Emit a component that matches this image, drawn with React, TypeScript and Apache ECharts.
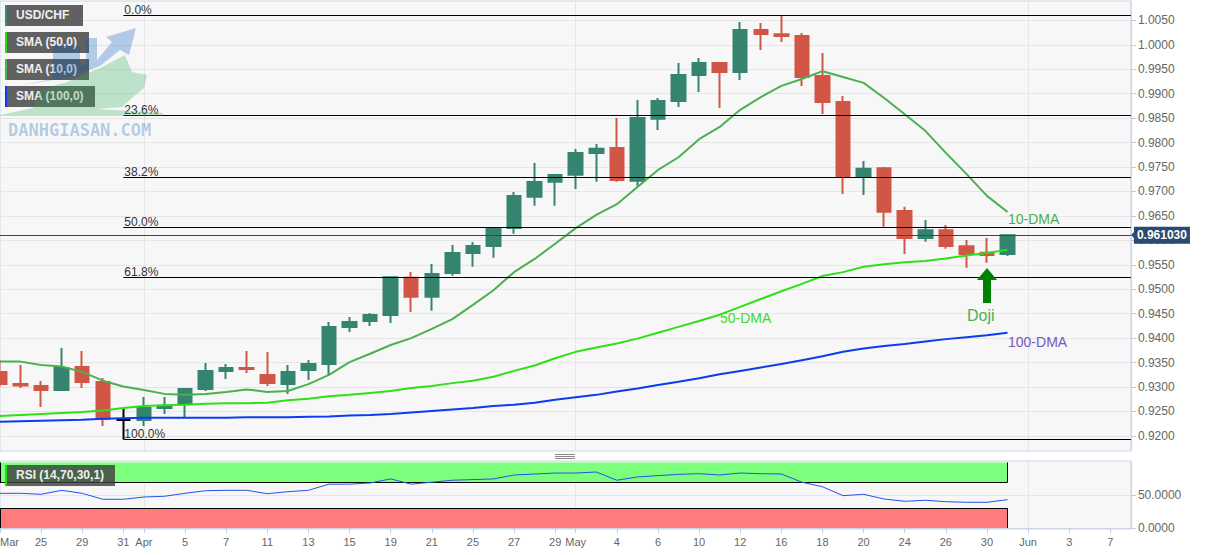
import React, { useEffect, useRef } from "react";
import * as echarts from "echarts";

const categories = ["Mar 23","Mar 24","Mar 25","Mar 28","Mar 29","Mar 30","Mar 31","Apr 1","Apr 4","Apr 5","Apr 6","Apr 7","Apr 8","Apr 11","Apr 12","Apr 13","Apr 14","Apr 15","Apr 18","Apr 19","Apr 20","Apr 21","Apr 22","Apr 25","Apr 26","Apr 27","Apr 28","Apr 29","May 2","May 3","May 4","May 5","May 6","May 9","May 10","May 11","May 12","May 13","May 16","May 17","May 18","May 19","May 20","May 23","May 24","May 25","May 26","May 27","May 30","May 31","Jun 1","Jun 2","Jun 3","Jun 6","Jun 7","Jun 8"];
const tickDates = ["Mar 23","Mar 25","Mar 29","Mar 31","Apr 1","Apr 5","Apr 7","Apr 11","Apr 13","Apr 15","Apr 19","Apr 21","Apr 25","Apr 27","Apr 29","May 2","May 4","May 6","May 10","May 12","May 16","May 18","May 20","May 24","May 26","May 30","Jun 1","Jun 3","Jun 7"];
const tickLabels = ["Mar","25","29","31","Apr","5","7","11","13","15","19","21","25","27","29","May","4","6","10","12","16","18","20","24","26","30","Jun","3","7"];
const monthStarts = ["Apr 1", "May 2", "Jun 1"];

// open, close, low, high
const candles = [
  [0.93308,0.93062,0.93001,0.93553],[0.93062,0.93031,0.9298,0.93451],[0.93021,0.92939,0.92592,0.93124],[0.92939,0.93389,0.92939,0.93798],
  [0.9341,0.93103,0.9298,0.93737],[0.93103,0.92346,0.92203,0.93185],[0.92326,0.92326,0.91932,0.92571],[0.92326,0.92571,0.92203,0.92796],
  [0.92571,0.92618,0.92449,0.92796],[0.92674,0.9296,0.92387,0.9298],[0.9296,0.93328,0.92919,0.93492],[0.93328,0.93389,0.93164,0.93471],
  [0.93389,0.93369,0.93287,0.93737],[0.93246,0.93083,0.93021,0.93717],[0.93062,0.93308,0.92858,0.93451],[0.93348,0.93471,0.93144,0.93553],
  [0.93471,0.94228,0.93246,0.9433],[0.94228,0.9433,0.94126,0.94432],[0.94351,0.94473,0.94248,0.94514],[0.94473,0.95244,0.9431,0.9525],
  [0.95236,0.94847,0.94535,0.95353],[0.94847,0.95312,0.94561,0.95516],[0.95332,0.95741,0.95277,0.95905],[0.95741,0.95884,0.95461,0.95966],
  [0.95884,0.96252,0.95645,0.96273],[0.96252,0.96907,0.96136,0.96989],[0.96893,0.97193,0.96708,0.97582],[0.97199,0.97336,0.96708,0.97357],
  [0.97342,0.97786,0.9705,0.97868],[0.97786,0.97874,0.97199,0.9797],[0.97888,0.97234,0.97199,0.98502],[0.9722,0.98502,0.97097,0.9887],
  [0.98488,0.9885,0.98256,0.98911],[0.9885,0.99381,0.98727,0.99627],[0.99381,0.99627,0.99034,0.99729],[0.99627,0.99443,0.98706,0.99627],
  [0.99443,1.00301,0.99279,1.00465],[1.00301,1.0022,0.99892,1.00445],[1.00214,1.00179,1.00056,1.00602],[1.00179,0.9934,0.99156,1.0024],
  [0.99361,0.98829,0.98584,0.99831],[0.98829,0.9731,0.96948,0.98952],[0.9731,0.97465,0.96927,0.97623],[0.97473,0.96586,0.96279,0.975],
  [0.966,0.96048,0.95721,0.96688],[0.96048,0.96205,0.95972,0.96416],[0.96205,0.95884,0.95829,0.96314],[0.95878,0.95721,0.9544,0.96007],
  [0.95747,0.957,0.95543,0.96048],[0.95721,0.96103,0.9568,0.96103],
];
const sma10 = [0.9352,0.9352,0.9345,0.9342,0.9331,0.9313,0.9301,0.9294,0.9286,0.9284,0.9286,0.929,0.9295,0.929,0.9292,0.9306,0.9325,0.9351,0.9368,0.9386,0.94,0.9419,0.9439,0.9468,0.9498,0.9535,0.9562,0.9593,0.9625,0.9652,0.9674,0.9709,0.9744,0.977,0.9807,0.9832,0.9867,0.9893,0.9916,0.993,0.9946,0.9934,0.9922,0.9891,0.9858,0.9824,0.9779,0.9736,0.9691,0.9658];
const sma50 = [0.9241,0.9243,0.9245,0.9247,0.9249,0.9252,0.9257,0.9261,0.9263,0.9264,0.9266,0.9267,0.9267,0.9268,0.9273,0.9276,0.9281,0.9284,0.9288,0.9292,0.9298,0.9302,0.9308,0.9313,0.9321,0.9333,0.9344,0.9359,0.9372,0.9381,0.9389,0.9399,0.9411,0.9423,0.9435,0.9448,0.9464,0.948,0.9496,0.9511,0.9527,0.9535,0.9546,0.9551,0.9555,0.9558,0.9563,0.9569,0.9574,0.9581];
const sma100 = [0.9229,0.923,0.9231,0.9232,0.9233,0.9235,0.9236,0.9237,0.9237,0.9237,0.9237,0.9237,0.9238,0.9238,0.9238,0.9239,0.924,0.9242,0.9243,0.9245,0.9248,0.9251,0.9254,0.9257,0.9261,0.9264,0.9268,0.9274,0.9279,0.9284,0.9291,0.9297,0.9304,0.9311,0.9318,0.9326,0.9333,0.934,0.9347,0.9355,0.9363,0.9372,0.9379,0.9384,0.9388,0.9393,0.9398,0.9402,0.9406,0.9411];
const rsi = [53,53,51.5,57.6,53,43.9,43.9,47.4,48.5,53,57,57.6,57.6,52.4,55.5,57.6,67,67,68.8,75,67,70,73,74,75,81,82.5,84,84,85.6,73,78,80,82,83,81,84,83,82.5,70,63,49.4,51.5,44.3,40.8,42.4,40.2,39.3,39.3,43.3];
const priceTicks = [1.005,1,0.995,0.99,0.985,0.98,0.975,0.97,0.965,0.96,0.955,0.95,0.945,0.94,0.935,0.93,0.925,0.92];
const rsiTicks = [0, 50];
const fibLevels = [["0.0%",1.00602],["23.6%",0.98556],["38.2%",0.9729],["50.0%",0.96267],["61.8%",0.95244],["100.0%",0.91932]] as [string, number][];
const lastPrice = 0.96103;
const lastPriceLabel = "0.961030";
const legendItems = [
  ["USD/CHF", "#2f8d7a", 5, 78],
  ["SMA (50,0)", "#22e000", 32, 84],
  ["SMA (10,0)", "#4caf50", 59, 84],
  ["SMA (100,0)", "#0a3cf0", 86, 90],
] as [string, string, number, number][];

const UP = "#34846f";
const DOWN = "#d25645";
const GRIDLINE = "#e6e6e6";
const BORDER = "#ced5e8";
const FONT = "'Liberation Sans', Arial, sans-serif";
const MARK_BLUE = "rgba(0,87,185,0.28)";
const MARK_GREEN = "rgba(44,174,84,0.28)";

const showTick = (_: number, v: string) => tickDates.includes(v);
const showMonth = (_: number, v: string) => monthStarts.includes(v);

function box(label: string, color: string, y: number, w: number, z = 20) {
  return [
    { type: "rect", z, shape: { x: 5, y, width: w, height: 21 }, style: { fill: "rgba(64,64,64,0.82)" } },
    { type: "rect", z, shape: { x: 5, y, width: 2, height: 21 }, style: { fill: color } },
    { type: "text", z: z + 1, x: 16, y: y + 4, style: { text: label, fill: "#f0f0f0", font: `bold 12px ${FONT}` } },
  ];
}

function annotation(text: string, x: number, y: number, fill: string, size = 14) {
  return { type: "text", z: 15, x, y, style: { text, fill, font: `${size}px ${FONT}` } };
}

export default function App() {
  const ref = useRef<HTMLDivElement>(null);
  useEffect(() => {
    const chart = echarts.init(ref.current!, undefined, { renderer: "svg" });
    const option: any = {
      animation: false,
      backgroundColor: "#ffffff",
      grid: [
        { left: 0, top: 1, width: 1130.9, height: 450, outerBoundsMode: "none", show: true, backgroundColor: "#f7f7f7", borderColor: BORDER, borderWidth: 1 },
        { left: 0, top: 461, width: 1130.9, height: 68, outerBoundsMode: "none", show: true, backgroundColor: "#f7f7f7", borderColor: BORDER, borderWidth: 1 },
      ],
      xAxis: [
        {
          type: "category", gridIndex: 0, data: categories, boundaryGap: false,
          axisLine: { show: false }, axisTick: { show: false }, axisLabel: { show: false },
          splitLine: { show: true, interval: showMonth, lineStyle: { color: GRIDLINE, width: 1 } },
        },
        {
          type: "category", gridIndex: 1, data: categories, boundaryGap: false,
          axisLine: { show: true, lineStyle: { color: BORDER } },
          axisTick: { show: true, interval: showTick, length: 5, lineStyle: { color: "#c4cbdc" } },
          axisLabel: {
            show: true, interval: showTick, color: "#666", fontFamily: FONT, fontSize: 11, margin: 7, alignMinLabel: "left",
            formatter: (v: string) => tickLabels[tickDates.indexOf(v)] ?? "",
          },
          splitLine: { show: true, interval: showMonth, lineStyle: { color: GRIDLINE, width: 1 } },
        },
      ],
      yAxis: [
        {
          type: "value", gridIndex: 0, position: "right", scale: true, min: 0.91692, max: 1.00895,
          axisLine: { show: true, lineStyle: { color: BORDER } },
          axisTick: { show: true, length: 5, customValues: priceTicks, lineStyle: { color: "#c4cbdc" } },
          axisLabel: { show: true, customValues: priceTicks, color: "#666", fontFamily: FONT, fontSize: 12, margin: 7, formatter: (v: number) => v.toFixed(4) },
          splitLine: { show: true, customValues: priceTicks, lineStyle: { color: GRIDLINE, width: 1 } },
        },
        {
          type: "value", gridIndex: 1, position: "right", min: -1.53, max: 102.4,
          axisLine: { show: true, lineStyle: { color: BORDER } },
          axisTick: { show: true, length: 5, customValues: rsiTicks, lineStyle: { color: "#c4cbdc" } },
          axisLabel: { show: true, customValues: rsiTicks, color: "#666", fontFamily: FONT, fontSize: 12, margin: 7, formatter: (v: number) => v.toFixed(4) },
          splitLine: { show: true, customValues: rsiTicks, lineStyle: { color: GRIDLINE, width: 1 } },
        },
      ],
      series: [
        {
          type: "candlestick", xAxisIndex: 0, yAxisIndex: 0, barWidth: 14, data: candles, z: 3,
          itemStyle: { color: UP, color0: DOWN, borderColor: UP, borderColor0: DOWN, borderColorDoji: "#000", borderWidth: 2 },
          markLine: {
            silent: true, symbol: "none", animation: false, z: 6,
            data: [
              ...fibLevels.map(([name, v]) => [
                {
                  coord: [6, v], lineStyle: { color: "#000", width: 1, type: "solid" },
                  label: { show: true, formatter: name, position: "insideStartTop", color: "#333", fontFamily: FONT, fontSize: 12, distance: [1, -0.5] },
                },
                { coord: [55, v] },
              ]),
              [
                {
                  coord: [0, lastPrice], lineStyle: { color: "#2b4a6f", width: 1, type: "solid" },
                  label: {
                    show: true, formatter: lastPriceLabel, position: "end", color: "#fff", fontFamily: FONT, fontSize: 12, fontWeight: "bold",
                    backgroundColor: "#2b4a6f", padding: [3, 3, 2, 3], distance: 3,
                  },
                },
                { coord: [55, lastPrice] },
              ],
            ],
          },
        },
        { type: "line", name: "SMA (10,0)", xAxisIndex: 0, yAxisIndex: 0, data: sma10, showSymbol: false, z: 5, lineStyle: { color: "#4caf50", width: 2 } },
        { type: "line", name: "SMA (50,0)", xAxisIndex: 0, yAxisIndex: 0, data: sma50, showSymbol: false, z: 5, lineStyle: { color: "#2ee016", width: 2 } },
        { type: "line", name: "SMA (100,0)", xAxisIndex: 0, yAxisIndex: 0, data: sma100, showSymbol: false, z: 5, lineStyle: { color: "#0a3cf0", width: 2 } },
        {
          type: "line", name: "RSI", xAxisIndex: 1, yAxisIndex: 1, data: rsi, showSymbol: false, z: 5, lineStyle: { color: "#2a50e8", width: 1 },
          markArea: {
            silent: true,
            data: [
              [{ coord: [0, 70], itemStyle: { color: "#7cff7c" } }, { coord: [49, 100] }],
              [{ coord: [0, 0], itemStyle: { color: "#ff7c7c" } }, { coord: [49, 30] }],
            ],
          },
          markLine: {
            silent: true, symbol: "none", label: { show: false }, lineStyle: { color: "#000", width: 1, type: "solid" },
            data: [
              [{ coord: [0, 70] }, { coord: [49, 70] }],
              [{ coord: [49, 70] }, { coord: [49, 100] }],
              [{ coord: [0, 70] }, { coord: [0, 100] }],
              [{ coord: [0, 30] }, { coord: [49, 30] }],
              [{ coord: [49, 0] }, { coord: [49, 30] }],
              [{ coord: [0, 0] }, { coord: [0, 30] }],
            ],
          },
        },
      ],
      graphic: [
        // legends
        ...legendItems.flatMap(([t, c, y, w]) => box(t, c, y, w)),
        ...box("RSI (14,70,30,1)", "#22e000", 465, 110),
        // watermark, translucent and above the legends
        { type: "polygon", z: 30, shape: { points: [[0,115],[33,108],[40,90],[67,82],[100,68],[125,55],[132,72],[147,75],[144,88],[133,97],[122,107],[96,109],[163,113],[163,116],[0,116]] }, style: { fill: MARK_GREEN } },
        { type: "polygon", z: 30, shape: { points: [[18,86],[53,79],[53,46],[80,46],[80,66],[86,63],[86,38],[97,38],[97,60],[112,42],[106,37],[136,28],[129,55],[120,50],[100,66],[70,77]] }, style: { fill: MARK_BLUE } },
        { type: "text", z: 30, x: 8, y: 121, style: { text: "DANHGIASAN.COM", fill: MARK_BLUE, font: `bold 17px 'DejaVu Sans Mono', monospace` } },
        // annotations
        annotation("10-DMA", 1008, 212, "#4caf50"),
        annotation("50-DMA", 720, 311, "#3fd92b"),
        annotation("100-DMA", 1008, 335, "#7755c0"),
        annotation("Doji", 967, 307, "#4caf50", 16),
        { type: "polygon", z: 15, shape: { points: [[987,268],[997,280],[991,280],[991,303],[983,303],[983,280],[977,280]] }, style: { fill: "#008000" } },
        // price tag pointer
        { type: "polygon", z: 15, shape: { points: [[1131,235],[1135,231],[1135,239]] }, style: { fill: "#2b4a6f" } },
        // panel separator handle
        { type: "rect", z: 15, shape: { x: 555, y: 454, width: 20, height: 1 }, style: { fill: "#888" } },
        { type: "rect", z: 15, shape: { x: 555, y: 456, width: 20, height: 1 }, style: { fill: "#888" } },
        { type: "rect", z: 15, shape: { x: 555, y: 458, width: 20, height: 1 }, style: { fill: "#888" } },
      ],
    };
    chart.setOption(option);
    return () => chart.dispose();
  }, []);
  return <div ref={ref} style={{ position: "absolute", left: 0, top: 0, width: 1207, height: 555 }} />;
}
